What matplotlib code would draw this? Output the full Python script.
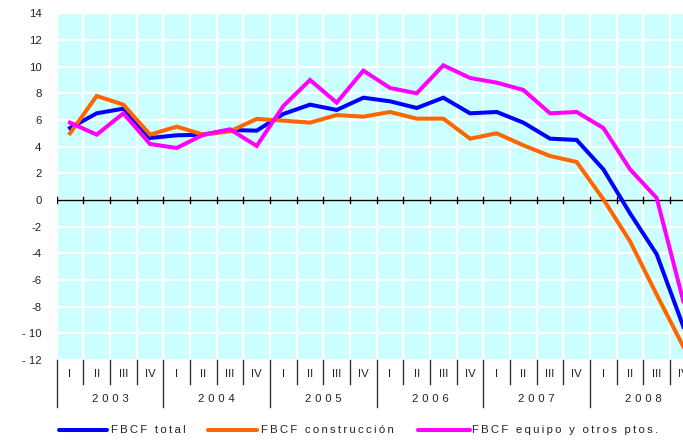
import matplotlib
matplotlib.use("Agg")
import matplotlib.pyplot as plt
from matplotlib.lines import Line2D
import matplotlib.transforms as mtransforms

plt.rcParams['font.family'] = ['Liberation Sans', 'DejaVu Sans']

years = ["2003", "2004", "2005", "2006", "2007", "2008"]
quarters = ["I", "II", "III", "IV"]

fbcf_total = [5.4, 6.5, 6.85, 4.65, 4.85, 4.9, 5.25, 5.2, 6.45, 7.15, 6.75, 7.67,
              7.4, 6.9, 7.67, 6.5, 6.6, 5.8, 4.6, 4.5, 2.3, -1.0, -4.07, -9.5]
fbcf_construccion = [5.0, 7.8, 7.15, 4.9, 5.5, 4.9, 5.15, 6.08, 5.95, 5.8, 6.37, 6.25,
                     6.6, 6.1, 6.1, 4.6, 5.0, 4.1, 3.3, 2.85, 0.05, -3.1, -7.1, -11.0]
fbcf_equipo = [5.8, 4.9, 6.5, 4.2, 3.9, 4.9, 5.3, 4.05, 7.05, 9.0, 7.3, 9.7,
               8.4, 8.0, 10.1, 9.15, 8.8, 8.25, 6.5, 6.6, 5.4, 2.3, 0.15, -7.6]

series_names = ["FBCF total", "FBCF construcción", "FBCF equipo y otros ptos."]
series_colors = ["#0000FF", "#FF6600", "#FF00FF"]
yticks = list(range(-12, 15, 2))

W, H = 683, 440
fig = plt.figure(figsize=(W / 100, H / 100), dpi=100)
left_px, right_px, top_px, bot_px = 56.7, 696.7, 13.3, 360.0
ax = fig.add_axes([left_px / W, 1 - bot_px / H, (right_px - left_px) / W, (bot_px - top_px) / H])
ax.set_facecolor("#CCFFFF")

n = len(fbcf_total)
x = list(range(n))
ax.set_xlim(-0.5, n - 0.5)
ax.set_ylim(-12, 14)

# grid
for yv in yticks:
    ax.axhline(yv, color="white", lw=1.6, zorder=1)
for i in range(n + 1):
    ax.axvline(i - 0.5, color="white", lw=1.6, zorder=1)

# zero line with ticks
ax.axhline(0, color="black", lw=1.0, zorder=2)
for i in range(n + 1):
    ax.plot([i - 0.5, i - 0.5], [-0.25, 0.25], color="black", lw=1.0, zorder=2)

for vals, col in zip([fbcf_total, fbcf_construccion, fbcf_equipo], series_colors):
    ax.plot(x, vals, color=col, lw=2.9, zorder=3, solid_joinstyle="miter", clip_on=True)

for s in ax.spines.values():
    s.set_visible(False)

ax.set_yticks(yticks)
ax.set_yticklabels([("- %d" % abs(v)) if v <= -10 else str(v) for v in yticks], fontsize=8.2, color="#222222")
ax.tick_params(axis="y", length=0, pad=11)
ax.set_xticks([])

# category axis below
trans = mtransforms.blended_transform_factory(ax.transData, ax.transAxes)
plot_h = bot_px - top_px
q_len = -23.5 / plot_h
y_len = -47.0 / plot_h
for i in range(n + 1):
    yy = y_len if i % 4 == 0 else q_len
    ax.plot([i - 0.5, i - 0.5], [0, yy], color="#333333", lw=1.0, transform=trans, clip_on=False)
for i in range(n):
    ax.text(i, -13.5 / plot_h, quarters[i % 4], transform=trans, ha="center", va="center",
            fontsize=8.2, color="#222222", clip_on=False)
sp = "\u2004"
for k, yr in enumerate(years):
    ax.text(4 * k + 1.5, -38.5 / plot_h, sp.join(yr), transform=trans, ha="center", va="center",
            fontsize=8.2, color="#222222", clip_on=False)

# legend (manual)
leg_y = 1 - 429.5 / H
leg_items = [(59, 107, 111), (208, 257, 261), (418, 470, 472)]
lsp = "\u2009"
for (x0, x1, xt), name, col in zip(leg_items, series_names, series_colors):
    fig.add_artist(Line2D([x0 / W, x1 / W], [leg_y, leg_y], color=col, lw=2.9,
                          transform=fig.transFigure, solid_capstyle="round"))
    fig.text(xt / W, leg_y, lsp.join(name), ha="left", va="center", fontsize=8.2, color="#222222")

fig.savefig("out.png", dpi=100)
